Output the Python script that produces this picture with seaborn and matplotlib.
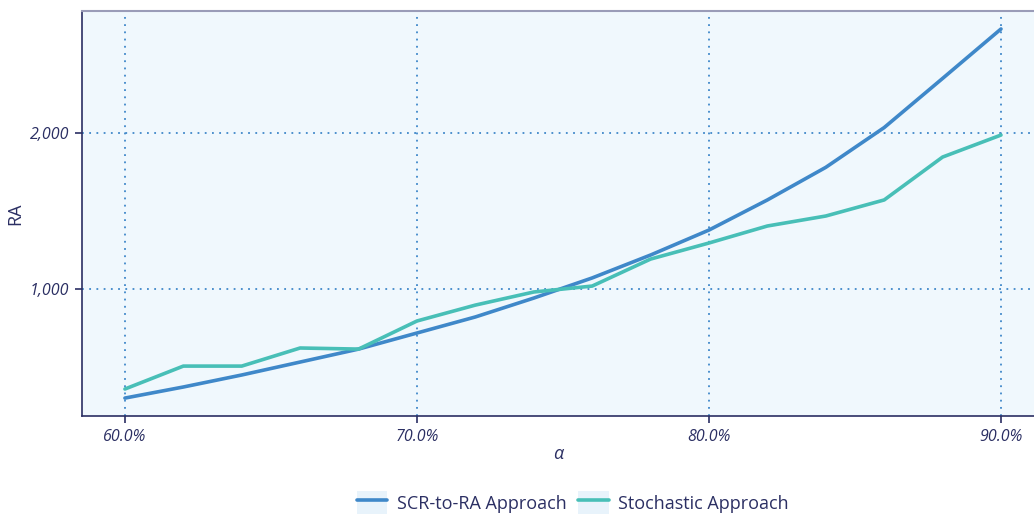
#!/usr/bin/env python3
import pandas as pd
import numpy as np
import matplotlib.pyplot as plt
import matplotlib.ticker as mticker
from matplotlib.patches import Rectangle
from matplotlib.legend_handler import HandlerTuple
import seaborn as sns

alpha = [0.60, 0.62, 0.64, 0.66, 0.68, 0.70, 0.72, 0.74,
         0.76, 0.78, 0.80, 0.82, 0.84, 0.86, 0.88, 0.90]
scr_to_ra = [301, 372, 449, 532, 615, 718, 821, 942,
             1071, 1218, 1378, 1571, 1780, 2035, 2350, 2667]
stochastic = [359, 506, 506, 622, 615, 795, 897, 981,
              1019, 1192, 1295, 1404, 1468, 1571, 1846, 1987]
series_names = ["SCR-to-RA Approach", "Stochastic Approach"]
series_colors = ["#3f88c9", "#48bfb7"]

text_col = "#2b2f63"
bg_col = "#f0f8fd"


def main():
    df = pd.DataFrame({
        "alpha": alpha * 2,
        "RA": scr_to_ra + stochastic,
        "series": [series_names[0]] * len(alpha) + [series_names[1]] * len(alpha),
    })

    sns.set_style("white")
    plt.rcParams['font.family'] = ['Open Sans', 'DejaVu Sans']

    fig = plt.figure(figsize=(10.34, 5.15), dpi=100)
    ax = fig.add_axes([0.0793, 0.1922, 0.9207, 0.7864])
    ax.set_facecolor(bg_col)

    sns.lineplot(data=df, x="alpha", y="RA", hue="series", palette=series_colors,
                 hue_order=series_names, linewidth=2.6, ax=ax, legend=False, zorder=3)

    # 60% at x=125px, 90% at x=1001px
    ax.set_xlim(0.5853, 0.9113)
    ax.set_ylim(186, 2782)
    ax.set_xticks([0.6, 0.7, 0.8, 0.9])
    ax.set_yticks([1000, 2000])
    ax.xaxis.set_major_formatter(mticker.FuncFormatter(lambda v, p: f"{v * 100:.1f}%"))
    ax.yaxis.set_major_formatter(mticker.FuncFormatter(lambda v, p: f"{v:,.0f}"))
    ax.grid(True, color="#3f88c9", linestyle=(0, (1, 3)), linewidth=1.3, zorder=1)

    ax.tick_params(axis="both", direction="out", length=5, width=1.2, color=text_col,
                   labelcolor=text_col, labelsize=11.5, pad=4, bottom=True, left=True)
    for lab in ax.get_xticklabels() + ax.get_yticklabels():
        lab.set_fontstyle("italic")

    for side in ["left", "bottom"]:
        ax.spines[side].set_color(text_col)
        ax.spines[side].set_linewidth(1.2)
    ax.spines["top"].set_color("#9a9cb8")
    ax.spines["top"].set_linewidth(1.5)
    ax.spines["right"].set_visible(False)

    ax.set_xlabel("α", color=text_col, fontsize=13, fontstyle="italic", labelpad=0)
    ax.set_ylabel("RA", color=text_col, fontsize=13, labelpad=4)

    handles = []
    for c in series_colors:
        box = Rectangle((0, 0), 1, 1, facecolor="#e8f3fb", edgecolor="none")
        line = plt.Line2D([0], [0], color=c, linewidth=2.6)
        handles.append((box, line))
    fig.legend(handles, series_names, loc="lower center", ncol=2, frameon=False,
               bbox_to_anchor=(0.554, -0.03), fontsize=13, labelcolor=text_col,
               handler_map={tuple: HandlerTuple(ndivide=1, pad=0)},
               handlelength=1.7, handleheight=1.6, columnspacing=0.6, handletextpad=0.55)

    fig.savefig("out.png", dpi=100)


if __name__ == "__main__":
    main()
